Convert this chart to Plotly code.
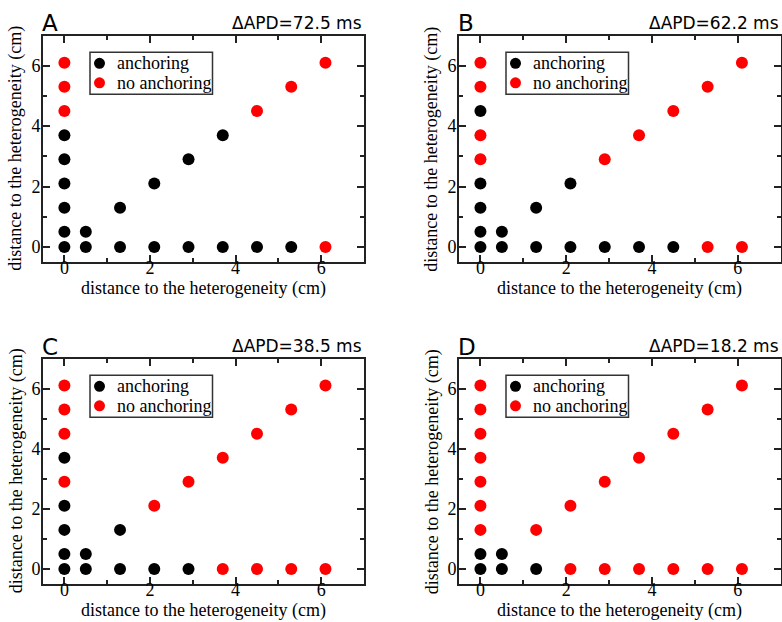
import plotly.graph_objects as go

# Panel identifiers and the action-potential-duration difference for each
panel_labels = ["A", "B", "C", "D"]
delta_apd = ["72.5", "62.2", "38.5", "18.2"]

# Initial positions of the spiral core (cm): (x, y) pairs per panel
anch_x_A = [0, 0, 0, 0, 0, 0, 0.5, 1.3, 2.1, 2.9, 3.7, 4.5, 5.3, 0.5, 1.3, 2.1, 2.9, 3.7]
anch_y_A = [0, 0.5, 1.3, 2.1, 2.9, 3.7, 0, 0, 0, 0, 0, 0, 0, 0.5, 1.3, 2.1, 2.9, 3.7]
free_x_A = [0, 0, 0, 6.1, 4.5, 5.3, 6.1]
free_y_A = [4.5, 5.3, 6.1, 0, 4.5, 5.3, 6.1]

anch_x_B = [0, 0, 0, 0, 0, 0.5, 1.3, 2.1, 2.9, 3.7, 4.5, 0.5, 1.3, 2.1]
anch_y_B = [0, 0.5, 1.3, 2.1, 4.5, 0, 0, 0, 0, 0, 0, 0.5, 1.3, 2.1]
free_x_B = [0, 0, 0, 0, 5.3, 6.1, 2.9, 3.7, 4.5, 5.3, 6.1]
free_y_B = [2.9, 3.7, 5.3, 6.1, 0, 0, 2.9, 3.7, 4.5, 5.3, 6.1]

anch_x_C = [0, 0, 0, 0, 0, 0.5, 1.3, 2.1, 2.9, 0.5, 1.3]
anch_y_C = [0, 0.5, 1.3, 2.1, 3.7, 0, 0, 0, 0, 0.5, 1.3]
free_x_C = [0, 0, 0, 0, 3.7, 4.5, 5.3, 6.1, 2.1, 2.9, 3.7, 4.5, 5.3, 6.1]
free_y_C = [2.9, 4.5, 5.3, 6.1, 0, 0, 0, 0, 2.1, 2.9, 3.7, 4.5, 5.3, 6.1]

anch_x_D = [0, 0, 0.5, 1.3, 0.5]
anch_y_D = [0, 0.5, 0, 0, 0.5]
free_x_D = [0, 0, 0, 0, 0, 0, 0, 2.1, 2.9, 3.7, 4.5, 5.3, 6.1,
            1.3, 2.1, 2.9, 3.7, 4.5, 5.3, 6.1]
free_y_D = [1.3, 2.1, 2.9, 3.7, 4.5, 5.3, 6.1, 0, 0, 0, 0, 0, 0,
            1.3, 2.1, 2.9, 3.7, 4.5, 5.3, 6.1]

anch_x = [anch_x_A, anch_x_B, anch_x_C, anch_x_D]
anch_y = [anch_y_A, anch_y_B, anch_y_C, anch_y_D]
free_x = [free_x_A, free_x_B, free_x_C, free_x_D]
free_y = [free_y_A, free_y_B, free_y_C, free_y_D]

series_names = ["anchoring", "no anchoring"]
series_colors = ["#000000", "#ff0000"]

tick_vals = [0, 2, 4, 6]
tick_text = ["0", "2", "4", "6"]
axis_title = "distance to the heterogeneity (cm)"

W, H = 782, 622
SERIF = "Liberation Serif"
SANS = "DejaVu Sans"


def px(xp):
    return xp / W


def py(yp):
    return 1 - yp / H


# pixel boxes of the four plotting areas (left, right, top, bottom)
boxes = [
    (43, 364, 35.5, 262),
    (459, 780.5, 35.5, 262),
    (43, 364, 358.5, 584),
    (459, 780.5, 358.5, 584),
]

fig = go.Figure()
layout = dict(
    width=W, height=H,
    margin=dict(l=0, r=0, t=0, b=0),
    paper_bgcolor="white", plot_bgcolor="white",
    font=dict(family=SERIF, size=16, color="black"),
    showlegend=False,
    annotations=[], shapes=[],
)

for i in range(4):
    xa = "x" if i == 0 else f"x{i+1}"
    ya = "y" if i == 0 else f"y{i+1}"
    fig.add_trace(go.Scatter(
        x=anch_x[i], y=anch_y[i], mode="markers", name=series_names[0],
        marker=dict(color=series_colors[0], size=12, line=dict(width=0)),
        xaxis=xa, yaxis=ya, cliponaxis=False,
    ))
    fig.add_trace(go.Scatter(
        x=free_x[i], y=free_y[i], mode="markers", name=series_names[1],
        marker=dict(color=series_colors[1], size=12, line=dict(width=0)),
        xaxis=xa, yaxis=ya, cliponaxis=False,
    ))

    l, r, t, b = boxes[i]
    xkey = "xaxis" if i == 0 else f"xaxis{i+1}"
    ykey = "yaxis" if i == 0 else f"yaxis{i+1}"
    common = dict(
        range=[-0.5, 7], tickmode="array", tickvals=tick_vals, ticktext=tick_text,
        ticks="inside", ticklen=7, tickwidth=1.5, tickcolor="#222",
        minor=dict(dtick=1, tick0=0, ticks="inside", ticklen=4, tickwidth=1.5,
                   tickcolor="#222"),
        showline=True, linecolor="#222", linewidth=2, mirror="allticks",
        showgrid=False, zeroline=False,
        tickfont=dict(family=SERIF, size=18, color="black"),
        fixedrange=True,
    )
    layout[xkey] = dict(common, domain=[px(l), px(r)], anchor=ya, ticklabelstandoff=-12)
    layout[ykey] = dict(common, domain=[py(b), py(t)], anchor=xa, ticklabelstandoff=-3)

    ann = layout["annotations"]
    # axis titles
    ann.append(dict(
        text=axis_title, xref="paper", yref="paper",
        x=px((l + r) / 2), y=py(b + 26), xanchor="center", yanchor="middle",
        showarrow=False, font=dict(family=SERIF, size=18, color="black"),
    ))
    ann.append(dict(
        text=axis_title, xref="paper", yref="paper", textangle=-90,
        x=px(l - 27), y=py((t + b) / 2), xanchor="center", yanchor="middle",
        showarrow=False, font=dict(family=SERIF, size=18, color="black"),
    ))
    # panel letter and ΔAPD value
    ann.append(dict(
        text=panel_labels[i], xref="paper", yref="paper",
        x=px(l - 3), y=py(t + 3), xanchor="left", yanchor="bottom",
        showarrow=False, font=dict(family=SANS, size=23, color="black"),
    ))
    ann.append(dict(
        text=f"ΔAPD={delta_apd[i]} ms", xref="paper", yref="paper",
        x=px(r), y=py(t - 1), xanchor="right", yanchor="bottom",
        showarrow=False, font=dict(family=SANS, size=17, color="black"),
    ))

    # legend box with its two keys
    bx0, bx1 = l + 47, l + 169.5
    by0, by1 = t + 16.8, t + 58.8
    layout["shapes"].append(dict(
        type="rect", xref="paper", yref="paper",
        x0=px(bx0), x1=px(bx1), y0=py(by1), y1=py(by0),
        line=dict(color="#333", width=1.5), fillcolor="white", layer="above",
    ))
    for k, (name, col) in enumerate(zip(series_names, series_colors)):
        cy = t + 27.8 + k * 19.5
        cx = l + 56.5
        rad = 5.5
        layout["shapes"].append(dict(
            type="circle", xref="paper", yref="paper",
            x0=px(cx - rad), x1=px(cx + rad), y0=py(cy + rad), y1=py(cy - rad),
            line=dict(width=0), fillcolor=col, layer="above",
        ))
        ann.append(dict(
            text=name, xref="paper", yref="paper",
            x=px(l + 71.5), y=py(cy), xanchor="left", yanchor="middle",
            showarrow=False, font=dict(family=SERIF, size=18, color="black"),
        ))

fig.update_layout(**layout)
fig.write_html("out.html")
